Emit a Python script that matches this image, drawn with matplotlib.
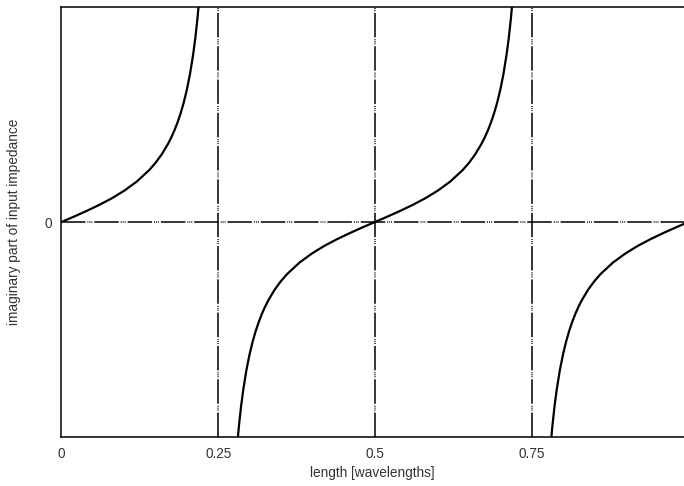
import matplotlib
matplotlib.use("Agg")
import matplotlib.pyplot as plt

plt.rcParams['font.family'] = ['Liberation Sans', 'DejaVu Sans']

# values (imaginary part, arbitrary units)
x_branch1 = [0.0, 0.02, 0.04, 0.06, 0.08, 0.10, 0.12, 0.14, 0.15, 0.16, 0.17, 0.175, 0.18,
             0.185, 0.19, 0.195, 0.20, 0.205, 0.21, 0.2135, 0.217, 0.22]
y_branch1 = [0.0, 0.126, 0.257, 0.396, 0.549, 0.727, 0.939, 1.209, 1.376, 1.575, 1.819, 1.963, 2.125,
             2.311, 2.526, 2.778, 3.078, 3.442, 3.895, 4.28, 4.75, 5.24]

x_branch2 = [0.28, 0.283, 0.2865, 0.29, 0.295, 0.30, 0.305, 0.31, 0.315, 0.32, 0.325, 0.33, 0.34,
             0.35, 0.36, 0.38, 0.40, 0.42, 0.44, 0.46, 0.48, 0.50]
y_branch2 = [-5.24, -4.75, -4.28, -3.895, -3.442, -3.078, -2.778, -2.526, -2.311, -2.125, -1.963, -1.819, -1.575,
             -1.376, -1.209, -0.939, -0.727, -0.549, -0.396, -0.257, -0.126, 0.0]

x_branch3 = [0.50, 0.52, 0.54, 0.56, 0.58, 0.60, 0.62, 0.64, 0.65, 0.66, 0.67, 0.675, 0.68,
             0.685, 0.69, 0.695, 0.70, 0.705, 0.71, 0.7135, 0.717, 0.72]
y_branch3 = [0.0, 0.126, 0.257, 0.396, 0.549, 0.727, 0.939, 1.209, 1.376, 1.575, 1.819, 1.963, 2.125,
             2.311, 2.526, 2.778, 3.078, 3.442, 3.895, 4.28, 4.75, 5.24]

x_branch4 = [0.78, 0.783, 0.7865, 0.79, 0.795, 0.80, 0.805, 0.81, 0.815, 0.82, 0.825, 0.83, 0.84,
             0.85, 0.86, 0.88, 0.90, 0.92, 0.94, 0.96, 0.98, 0.993]
y_branch4 = [-5.24, -4.75, -4.28, -3.895, -3.442, -3.078, -2.778, -2.526, -2.311, -2.125, -1.963, -1.819, -1.575,
             -1.376, -1.209, -0.939, -0.727, -0.549, -0.396, -0.257, -0.126, -0.044]

x_grid = [0.25, 0.5, 0.75]
x_ticks = [0, 0.25, 0.5, 0.75]
x_ticklabels = ['0', '0.25', '0.5', '0.75']

fig = plt.figure(figsize=(6.84, 4.86), dpi=100)
ax = fig.add_axes([0.0899, 0.1008, 0.9101, 0.8848])

grid_style = (0, (16, 1.3, 0.6, 0.7, 0.6, 0.7, 0.6, 1.3))
for xv in x_grid:
    ax.axvline(xv, color='black', lw=1.1, linestyle=grid_style, zorder=1)
ax.axhline(0, color='black', lw=1.1, linestyle=grid_style, zorder=1)

for xs, ys in [(x_branch1, y_branch1), (x_branch2, y_branch2),
               (x_branch3, y_branch3), (x_branch4, y_branch4)]:
    ax.plot(xs, ys, color='black', lw=1.6, zorder=3, solid_joinstyle='round')

ax.set_xlim(0, 0.993)
ax.set_ylim(-5, 5)
ax.set_xticks(x_ticks)
ax.set_xticklabels(x_ticklabels)
ax.set_yticks([0])
ax.set_yticklabels(['0'])
ax.tick_params(length=0, labelsize=9.8, colors='#333333')
ax.tick_params(axis='x', pad=7)
ax.tick_params(axis='y', pad=7)

ax.spines['right'].set_visible(False)
for s in ['left', 'top', 'bottom']:
    ax.spines[s].set_linewidth(1.1)

ax.set_xlabel('length [wavelengths]', fontsize=9.8, color='#333333', labelpad=4)
ax.set_ylabel('imaginary part of input impedance', fontsize=9.8, color='#333333', labelpad=17)

fig.savefig('out.png', dpi=100)
